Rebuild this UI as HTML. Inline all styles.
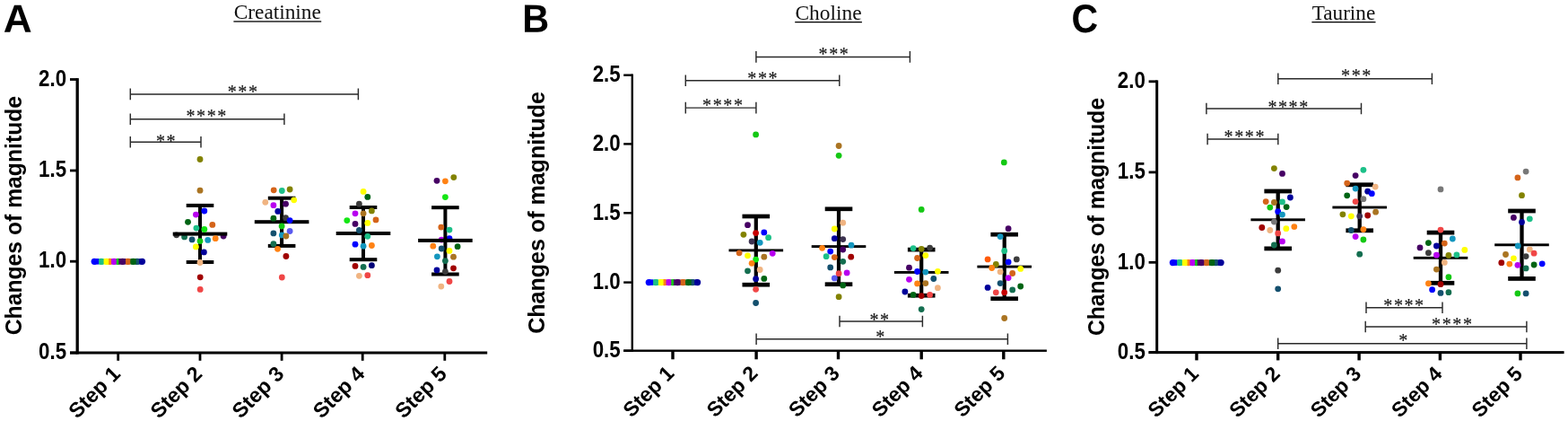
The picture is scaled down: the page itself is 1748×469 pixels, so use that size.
<!DOCTYPE html>
<html lang="en"><head><meta charset="utf-8"><title>Changes of magnitude: Creatinine, Choline, Taurine</title>
<style>
html,body{margin:0;padding:0;background:#fff;}
body{width:1748px;height:469px;overflow:hidden;}
svg{display:block;}
.ax{fill:#000;}
.lab{font-family:"Liberation Sans",Arial,Helvetica,sans-serif;font-weight:bold;fill:#000;}
.pl{font-family:"Liberation Sans",Arial,Helvetica,sans-serif;font-weight:bold;fill:#000;}
.ti{font-family:"Liberation Serif","Times New Roman",serif;fill:#111;}
.st{font-family:"Liberation Serif","Times New Roman",serif;fill:#1a1a1a;stroke:#1a1a1a;stroke-width:0.2px;}
.sg{stroke:#2a2a2a;stroke-width:1.45;fill:none;}
.eb{fill:#000;}
</style></head><body>
<svg width="1748" height="469" viewBox="0 0 1748 469">
<rect width="1748" height="469" fill="#fff"/>
<text class="pl" transform="translate(3.8,35.8) rotate(0.05) scale(1.01,1)" font-size="43.8">A</text>
<text class="ti" x="260.7" y="20.8" font-size="22.5" textLength="97.2" lengthAdjust="spacingAndGlyphs">Creatinine</text>
<rect class="ax" x="260.40" y="23.30" width="97.80" height="1.30"/>
<text class="lab" transform="translate(23.7,373.3) rotate(-90)" font-size="26" textLength="266.4" lengthAdjust="spacingAndGlyphs">Changes of magnitude</text>
<rect class="ax" x="84.55" y="87.10" width="3.30" height="307.40"/>
<rect class="ax" x="78.00" y="391.50" width="465.20" height="3.00"/>
<rect class="ax" x="78.00" y="87.10" width="8.20" height="2.80"/>
<text class="lab" x="43.1" y="95.6" font-size="25.2" textLength="31.0" lengthAdjust="spacingAndGlyphs">2.0</text>
<rect class="ax" x="78.00" y="188.60" width="8.20" height="2.80"/>
<text class="lab" x="43.1" y="197.1" font-size="25.2" textLength="31.0" lengthAdjust="spacingAndGlyphs">1.5</text>
<rect class="ax" x="78.00" y="289.80" width="8.20" height="2.80"/>
<text class="lab" x="43.1" y="298.3" font-size="25.2" textLength="31.0" lengthAdjust="spacingAndGlyphs">1.0</text>
<rect class="ax" x="78.00" y="391.60" width="8.20" height="2.80"/>
<text class="lab" x="43.1" y="400.1" font-size="25.2" textLength="31.0" lengthAdjust="spacingAndGlyphs">0.5</text>
<rect class="ax" x="130.30" y="393.00" width="2.80" height="8.80"/>
<text class="lab" transform="translate(135.4,417.8) rotate(-45)" font-size="23.3" text-anchor="end">Step 1</text>
<rect class="ax" x="221.60" y="393.00" width="2.80" height="8.80"/>
<text class="lab" transform="translate(226.7,417.8) rotate(-45)" font-size="23.3" text-anchor="end">Step 2</text>
<rect class="ax" x="312.70" y="393.00" width="2.80" height="8.80"/>
<text class="lab" transform="translate(317.8,417.8) rotate(-45)" font-size="23.3" text-anchor="end">Step 3</text>
<rect class="ax" x="402.80" y="393.00" width="2.80" height="8.80"/>
<text class="lab" transform="translate(407.9,417.8) rotate(-45)" font-size="23.3" text-anchor="end">Step 4</text>
<rect class="ax" x="494.40" y="393.00" width="2.80" height="8.80"/>
<text class="lab" transform="translate(499.5,417.8) rotate(-45)" font-size="23.3" text-anchor="end">Step 5</text>
<circle cx="122.4" cy="291.3" r="3.6" fill="#FF8214"/>
<circle cx="131.6" cy="291.3" r="3.6" fill="#14C814"/>
<circle cx="152.9" cy="291.3" r="3.6" fill="#14506E"/>
<circle cx="112.9" cy="291.3" r="3.6" fill="#1CC088"/>
<circle cx="127.2" cy="291.3" r="3.6" fill="#B800F0"/>
<circle cx="142.6" cy="291.3" r="3.6" fill="#D4641A"/>
<circle cx="118.9" cy="291.3" r="3.6" fill="#FFFF00"/>
<circle cx="136.6" cy="291.3" r="3.6" fill="#460064"/>
<circle cx="148.5" cy="291.3" r="3.6" fill="#006414"/>
<circle cx="105.2" cy="291.3" r="3.6" fill="#0000FF"/>
<circle cx="158.5" cy="291.3" r="3.6" fill="#00009A"/>
<rect x="105.1" y="288.0" width="5.1" height="6.6" fill="#0000FF"/>
<rect x="110.2" y="288.0" width="5.5" height="6.6" fill="#1CC088"/>
<rect x="115.7" y="288.0" width="5.6" height="6.6" fill="#FFFF00"/>
<rect x="121.2" y="288.0" width="3.0" height="6.6" fill="#FF8214"/>
<rect x="124.2" y="288.0" width="5.5" height="6.6" fill="#B800F0"/>
<rect x="129.7" y="288.0" width="2.7" height="6.6" fill="#14C814"/>
<rect x="132.4" y="288.0" width="7.6" height="6.6" fill="#460064"/>
<rect x="140.0" y="288.0" width="5.5" height="6.6" fill="#D4641A"/>
<rect x="145.5" y="288.0" width="6.4" height="6.6" fill="#006414"/>
<rect x="151.8" y="288.0" width="3.4" height="6.6" fill="#14506E"/>
<rect x="155.2" y="288.0" width="3.4" height="6.6" fill="#00009A"/>
<text class="pl" transform="translate(582.2,35.8) rotate(0.05) scale(0.945,1)" font-size="43.8">B</text>
<text class="ti" x="886.5" y="21.5" font-size="22.5" textLength="74.1" lengthAdjust="spacingAndGlyphs">Choline</text>
<rect class="ax" x="886.20" y="24.00" width="74.70" height="1.30"/>
<text class="lab" transform="translate(607.4,371.8) rotate(-90)" font-size="26" textLength="269.8" lengthAdjust="spacingAndGlyphs">Changes of magnitude</text>
<rect class="ax" x="703.60" y="82.50" width="2.40" height="309.40"/>
<rect class="ax" x="695.20" y="389.50" width="471.70" height="2.40"/>
<rect class="ax" x="695.20" y="82.50" width="9.60" height="2.40"/>
<text class="lab" x="660.7" y="91.1" font-size="25.2" textLength="31.0" lengthAdjust="spacingAndGlyphs">2.5</text>
<rect class="ax" x="695.20" y="159.20" width="9.60" height="2.40"/>
<text class="lab" x="660.7" y="167.8" font-size="25.2" textLength="31.0" lengthAdjust="spacingAndGlyphs">2.0</text>
<rect class="ax" x="695.20" y="236.10" width="9.60" height="2.40"/>
<text class="lab" x="660.7" y="244.7" font-size="25.2" textLength="31.0" lengthAdjust="spacingAndGlyphs">1.5</text>
<rect class="ax" x="695.20" y="313.40" width="9.60" height="2.40"/>
<text class="lab" x="660.7" y="322.0" font-size="25.2" textLength="31.0" lengthAdjust="spacingAndGlyphs">1.0</text>
<rect class="ax" x="695.20" y="389.50" width="9.60" height="2.40"/>
<text class="lab" x="660.7" y="398.1" font-size="25.2" textLength="31.0" lengthAdjust="spacingAndGlyphs">0.5</text>
<rect class="ax" x="748.30" y="390.70" width="3.40" height="9.60"/>
<text class="lab" transform="translate(752.9,417.3) rotate(-45)" font-size="23.0" text-anchor="end">Step 1</text>
<rect class="ax" x="841.40" y="390.70" width="3.40" height="9.60"/>
<text class="lab" transform="translate(846.0,417.3) rotate(-45)" font-size="23.0" text-anchor="end">Step 2</text>
<rect class="ax" x="932.80" y="390.70" width="3.40" height="9.60"/>
<text class="lab" transform="translate(937.4,417.3) rotate(-45)" font-size="23.0" text-anchor="end">Step 3</text>
<rect class="ax" x="1025.50" y="390.70" width="3.40" height="9.60"/>
<text class="lab" transform="translate(1030.1,417.3) rotate(-45)" font-size="23.0" text-anchor="end">Step 4</text>
<rect class="ax" x="1117.10" y="390.70" width="3.40" height="9.60"/>
<text class="lab" transform="translate(1121.7,417.3) rotate(-45)" font-size="23.0" text-anchor="end">Step 5</text>
<circle cx="740.8" cy="314.6" r="3.6" fill="#FF8214"/>
<circle cx="750.2" cy="314.6" r="3.6" fill="#14C814"/>
<circle cx="771.9" cy="314.6" r="3.6" fill="#14506E"/>
<circle cx="731.1" cy="314.6" r="3.6" fill="#1CC088"/>
<circle cx="745.7" cy="314.6" r="3.6" fill="#B800F0"/>
<circle cx="761.4" cy="314.6" r="3.6" fill="#D4641A"/>
<circle cx="737.3" cy="314.6" r="3.6" fill="#FFFF00"/>
<circle cx="755.3" cy="314.6" r="3.6" fill="#460064"/>
<circle cx="767.5" cy="314.6" r="3.6" fill="#006414"/>
<circle cx="723.3" cy="314.6" r="3.6" fill="#0000FF"/>
<circle cx="777.6" cy="314.6" r="3.6" fill="#00009A"/>
<rect x="723.2" y="311.3" width="5.2" height="6.6" fill="#0000FF"/>
<rect x="728.3" y="311.3" width="5.6" height="6.6" fill="#1CC088"/>
<rect x="733.9" y="311.3" width="5.7" height="6.6" fill="#FFFF00"/>
<rect x="739.6" y="311.3" width="3.0" height="6.6" fill="#FF8214"/>
<rect x="742.7" y="311.3" width="5.6" height="6.6" fill="#B800F0"/>
<rect x="748.3" y="311.3" width="2.7" height="6.6" fill="#14C814"/>
<rect x="751.0" y="311.3" width="7.7" height="6.6" fill="#460064"/>
<rect x="758.7" y="311.3" width="5.6" height="6.6" fill="#D4641A"/>
<rect x="764.3" y="311.3" width="6.5" height="6.6" fill="#006414"/>
<rect x="770.8" y="311.3" width="3.5" height="6.6" fill="#14506E"/>
<rect x="774.3" y="311.3" width="3.5" height="6.6" fill="#00009A"/>
<text class="pl" transform="translate(1194.5,36.0) rotate(0.05) scale(0.925,1)" font-size="44.4">C</text>
<text class="ti" x="1462.7" y="21.5" font-size="22.5" textLength="70.5" lengthAdjust="spacingAndGlyphs">Taurine</text>
<rect class="ax" x="1462.40" y="24.00" width="71.10" height="1.30"/>
<text class="lab" transform="translate(1231.1,374.1) rotate(-90)" font-size="26" textLength="265.2" lengthAdjust="spacingAndGlyphs">Changes of magnitude</text>
<rect class="ax" x="1288.20" y="89.40" width="3.00" height="304.70"/>
<rect class="ax" x="1280.60" y="391.10" width="463.00" height="3.00"/>
<rect class="ax" x="1280.60" y="89.40" width="9.10" height="2.80"/>
<text class="lab" x="1245.8" y="98.1" font-size="25.2" textLength="31.0" lengthAdjust="spacingAndGlyphs">2.0</text>
<rect class="ax" x="1280.60" y="190.50" width="9.10" height="2.80"/>
<text class="lab" x="1245.8" y="199.2" font-size="25.2" textLength="31.0" lengthAdjust="spacingAndGlyphs">1.5</text>
<rect class="ax" x="1280.60" y="290.90" width="9.10" height="2.80"/>
<text class="lab" x="1245.8" y="299.6" font-size="25.2" textLength="31.0" lengthAdjust="spacingAndGlyphs">1.0</text>
<rect class="ax" x="1280.60" y="391.20" width="9.10" height="2.80"/>
<text class="lab" x="1245.8" y="399.9" font-size="25.2" textLength="31.0" lengthAdjust="spacingAndGlyphs">0.5</text>
<rect class="ax" x="1332.30" y="392.60" width="3.40" height="8.80"/>
<text class="lab" transform="translate(1337.5,417.8) rotate(-45)" font-size="22.8" text-anchor="end">Step 1</text>
<rect class="ax" x="1423.00" y="392.60" width="3.40" height="8.80"/>
<text class="lab" transform="translate(1428.2,417.8) rotate(-45)" font-size="22.8" text-anchor="end">Step 2</text>
<rect class="ax" x="1513.40" y="392.60" width="3.40" height="8.80"/>
<text class="lab" transform="translate(1518.6,417.8) rotate(-45)" font-size="22.8" text-anchor="end">Step 3</text>
<rect class="ax" x="1603.70" y="392.60" width="3.40" height="8.80"/>
<text class="lab" transform="translate(1608.9,417.8) rotate(-45)" font-size="22.8" text-anchor="end">Step 4</text>
<rect class="ax" x="1693.30" y="392.60" width="3.40" height="8.80"/>
<text class="lab" transform="translate(1698.5,417.8) rotate(-45)" font-size="22.8" text-anchor="end">Step 5</text>
<circle cx="1324.8" cy="292.6" r="3.6" fill="#FF8214"/>
<circle cx="1334.0" cy="292.6" r="3.6" fill="#14C814"/>
<circle cx="1355.5" cy="292.6" r="3.6" fill="#14506E"/>
<circle cx="1315.1" cy="292.6" r="3.6" fill="#1CC088"/>
<circle cx="1329.6" cy="292.6" r="3.6" fill="#B800F0"/>
<circle cx="1345.0" cy="292.6" r="3.6" fill="#D4641A"/>
<circle cx="1321.3" cy="292.6" r="3.6" fill="#FFFF00"/>
<circle cx="1339.0" cy="292.6" r="3.6" fill="#460064"/>
<circle cx="1351.1" cy="292.6" r="3.6" fill="#006414"/>
<circle cx="1307.4" cy="292.6" r="3.6" fill="#0000FF"/>
<circle cx="1361.1" cy="292.6" r="3.6" fill="#00009A"/>
<rect x="1307.3" y="289.3" width="5.1" height="6.6" fill="#0000FF"/>
<rect x="1312.4" y="289.3" width="5.5" height="6.6" fill="#1CC088"/>
<rect x="1317.9" y="289.3" width="5.6" height="6.6" fill="#FFFF00"/>
<rect x="1323.6" y="289.3" width="3.0" height="6.6" fill="#FF8214"/>
<rect x="1326.6" y="289.3" width="5.5" height="6.6" fill="#B800F0"/>
<rect x="1332.1" y="289.3" width="2.7" height="6.6" fill="#14C814"/>
<rect x="1334.8" y="289.3" width="7.6" height="6.6" fill="#460064"/>
<rect x="1342.4" y="289.3" width="5.5" height="6.6" fill="#D4641A"/>
<rect x="1347.9" y="289.3" width="6.4" height="6.6" fill="#006414"/>
<rect x="1354.4" y="289.3" width="3.4" height="6.6" fill="#14506E"/>
<rect x="1357.8" y="289.3" width="3.4" height="6.6" fill="#00009A"/>
<circle cx="196.7" cy="261.8" r="3.4" fill="#3C3C3C"/>
<circle cx="205.6" cy="263.9" r="3.4" fill="#146E50"/>
<circle cx="249.1" cy="263.0" r="3.4" fill="#460064"/>
<circle cx="492.2" cy="267.1" r="3.4" fill="#B800F0"/>
<circle cx="501.0" cy="265.7" r="3.4" fill="#0000FF"/>
<rect class="eb" x="221.00" y="228.90" width="4.00" height="63.10"/>
<rect class="eb" x="207.70" y="226.90" width="30.60" height="4.00"/>
<rect class="eb" x="207.70" y="290.00" width="30.60" height="4.00"/>
<rect class="eb" x="192.70" y="258.60" width="60.60" height="4.00"/>
<rect class="eb" x="312.10" y="220.70" width="4.00" height="53.20"/>
<rect class="eb" x="298.80" y="218.70" width="30.60" height="4.00"/>
<rect class="eb" x="298.80" y="271.90" width="30.60" height="4.00"/>
<rect class="eb" x="283.80" y="245.20" width="60.60" height="4.00"/>
<rect class="eb" x="403.00" y="231.00" width="4.00" height="58.20"/>
<rect class="eb" x="389.70" y="229.00" width="30.60" height="4.00"/>
<rect class="eb" x="389.70" y="287.20" width="30.60" height="4.00"/>
<rect class="eb" x="374.70" y="258.00" width="60.60" height="4.00"/>
<rect class="eb" x="494.40" y="231.20" width="4.00" height="74.30"/>
<rect class="eb" x="481.10" y="229.20" width="30.60" height="4.00"/>
<rect class="eb" x="481.10" y="303.50" width="30.60" height="4.00"/>
<rect class="eb" x="466.10" y="265.90" width="60.60" height="4.00"/>
<rect class="eb" x="840.70" y="241.00" width="4.20" height="76.20"/>
<rect class="eb" x="827.50" y="238.65" width="30.60" height="4.70"/>
<rect class="eb" x="827.50" y="314.85" width="30.60" height="4.70"/>
<rect class="eb" x="812.50" y="277.45" width="60.60" height="2.90"/>
<rect class="eb" x="932.90" y="232.80" width="4.20" height="83.90"/>
<rect class="eb" x="919.70" y="230.45" width="30.60" height="4.70"/>
<rect class="eb" x="919.70" y="314.35" width="30.60" height="4.70"/>
<rect class="eb" x="904.70" y="273.15" width="60.60" height="2.90"/>
<rect class="eb" x="1025.10" y="278.10" width="4.20" height="51.10"/>
<rect class="eb" x="1011.90" y="275.75" width="30.60" height="4.70"/>
<rect class="eb" x="1011.90" y="326.85" width="30.60" height="4.70"/>
<rect class="eb" x="996.90" y="301.95" width="60.60" height="2.90"/>
<rect class="eb" x="1117.60" y="261.20" width="4.20" height="71.50"/>
<rect class="eb" x="1104.40" y="258.85" width="30.60" height="4.70"/>
<rect class="eb" x="1104.40" y="330.35" width="30.60" height="4.70"/>
<rect class="eb" x="1089.40" y="295.65" width="60.60" height="2.90"/>
<rect class="eb" x="1422.55" y="213.00" width="4.30" height="63.90"/>
<rect class="eb" x="1409.40" y="210.60" width="30.60" height="4.80"/>
<rect class="eb" x="1409.40" y="274.50" width="30.60" height="4.80"/>
<rect class="eb" x="1394.40" y="243.35" width="60.60" height="2.90"/>
<rect class="eb" x="1513.55" y="205.80" width="4.30" height="51.00"/>
<rect class="eb" x="1500.40" y="203.40" width="30.60" height="4.80"/>
<rect class="eb" x="1500.40" y="254.40" width="30.60" height="4.80"/>
<rect class="eb" x="1485.40" y="229.55" width="60.60" height="2.90"/>
<rect class="eb" x="1603.85" y="259.10" width="4.30" height="56.20"/>
<rect class="eb" x="1590.70" y="256.70" width="30.60" height="4.80"/>
<rect class="eb" x="1590.70" y="312.90" width="30.60" height="4.80"/>
<rect class="eb" x="1575.70" y="285.85" width="60.60" height="2.90"/>
<rect class="eb" x="1694.35" y="235.00" width="4.30" height="75.40"/>
<rect class="eb" x="1681.20" y="232.60" width="30.60" height="4.80"/>
<rect class="eb" x="1681.20" y="308.00" width="30.60" height="4.80"/>
<rect class="eb" x="1666.20" y="271.35" width="60.60" height="2.90"/>
<circle cx="223.0" cy="177.5" r="3.4" fill="#828200"/>
<circle cx="223.0" cy="212.2" r="3.4" fill="#AA7422"/>
<circle cx="227.8" cy="235.0" r="3.4" fill="#0000FF"/>
<circle cx="218.4" cy="239.1" r="3.4" fill="#B800F0"/>
<circle cx="209.5" cy="247.3" r="3.4" fill="#006414"/>
<circle cx="236.8" cy="250.4" r="3.4" fill="#D4641A"/>
<circle cx="218.9" cy="254.1" r="3.4" fill="#1CC088"/>
<circle cx="227.8" cy="255.5" r="3.4" fill="#14E614"/>
<circle cx="214.1" cy="266.9" r="3.4" fill="#14506E"/>
<circle cx="223.0" cy="268.6" r="3.4" fill="#14C814"/>
<circle cx="231.7" cy="267.4" r="3.4" fill="#1496BE"/>
<circle cx="240.2" cy="265.7" r="3.4" fill="#FF8214"/>
<circle cx="218.4" cy="274.9" r="3.4" fill="#FFFF00"/>
<circle cx="227.4" cy="280.9" r="3.4" fill="#00009A"/>
<circle cx="223.0" cy="292.5" r="3.4" fill="#F0B482"/>
<circle cx="223.2" cy="308.8" r="3.4" fill="#A00000"/>
<circle cx="223.2" cy="322.4" r="3.4" fill="#F04646"/>
<circle cx="305.2" cy="211.8" r="3.4" fill="#D4641A"/>
<circle cx="314.3" cy="212.5" r="3.4" fill="#1CC088"/>
<circle cx="323.1" cy="211.0" r="3.4" fill="#828200"/>
<circle cx="295.8" cy="225.3" r="3.4" fill="#F0B482"/>
<circle cx="327.7" cy="222.8" r="3.4" fill="#FFFF00"/>
<circle cx="304.9" cy="228.7" r="3.4" fill="#B800F0"/>
<circle cx="318.5" cy="227.2" r="3.4" fill="#460064"/>
<circle cx="309.8" cy="235.4" r="3.4" fill="#00009A"/>
<circle cx="304.9" cy="243.2" r="3.4" fill="#006414"/>
<circle cx="318.5" cy="242.6" r="3.4" fill="#3C3C3C"/>
<circle cx="323.1" cy="245.6" r="3.4" fill="#0000FF"/>
<circle cx="405.1" cy="213.4" r="3.4" fill="#FFFF00"/>
<circle cx="409.8" cy="219.4" r="3.4" fill="#006414"/>
<circle cx="400.4" cy="227.2" r="3.4" fill="#3C3C3C"/>
<circle cx="414.4" cy="234.9" r="3.4" fill="#828200"/>
<circle cx="396.0" cy="237.8" r="3.4" fill="#B800F0"/>
<circle cx="405.1" cy="237.8" r="3.4" fill="#AA7422"/>
<circle cx="386.8" cy="245.6" r="3.4" fill="#14E614"/>
<circle cx="419.0" cy="244.9" r="3.4" fill="#D4641A"/>
<circle cx="396.0" cy="249.4" r="3.4" fill="#460064"/>
<circle cx="409.8" cy="248.4" r="3.4" fill="#FFFF00"/>
<circle cx="314.1" cy="252.0" r="3.4" fill="#14C814"/>
<circle cx="304.9" cy="259.9" r="3.4" fill="#14506E"/>
<circle cx="323.1" cy="257.5" r="3.4" fill="#5A5AF0"/>
<circle cx="314.3" cy="261.9" r="3.4" fill="#1496BE"/>
<circle cx="318.9" cy="263.0" r="3.4" fill="#AA7422"/>
<circle cx="304.9" cy="271.7" r="3.4" fill="#146E50"/>
<circle cx="309.5" cy="277.3" r="3.4" fill="#FF8214"/>
<circle cx="318.9" cy="285.5" r="3.4" fill="#A00000"/>
<circle cx="314.3" cy="309.0" r="3.4" fill="#F04646"/>
<circle cx="400.4" cy="256.5" r="3.4" fill="#14506E"/>
<circle cx="409.8" cy="263.3" r="3.4" fill="#1CC088"/>
<circle cx="396.0" cy="272.2" r="3.4" fill="#0000FF"/>
<circle cx="405.1" cy="274.2" r="3.4" fill="#1496BE"/>
<circle cx="414.4" cy="273.5" r="3.4" fill="#FF8214"/>
<circle cx="396.0" cy="296.4" r="3.4" fill="#A00000"/>
<circle cx="405.1" cy="297.4" r="3.4" fill="#146E50"/>
<circle cx="414.4" cy="295.7" r="3.4" fill="#000078"/>
<circle cx="400.4" cy="307.3" r="3.4" fill="#F0B482"/>
<circle cx="409.8" cy="306.7" r="3.4" fill="#F04646"/>
<circle cx="487.0" cy="201.3" r="3.4" fill="#460064"/>
<circle cx="496.4" cy="201.8" r="3.4" fill="#FF8214"/>
<circle cx="505.8" cy="197.6" r="3.4" fill="#828200"/>
<circle cx="496.4" cy="219.6" r="3.4" fill="#14E614"/>
<circle cx="491.8" cy="253.1" r="3.4" fill="#D4641A"/>
<circle cx="501.0" cy="256.1" r="3.4" fill="#1CC088"/>
<circle cx="482.8" cy="274.2" r="3.4" fill="#FF8214"/>
<circle cx="492.2" cy="277.0" r="3.4" fill="#14506E"/>
<circle cx="510.1" cy="274.7" r="3.4" fill="#006414"/>
<circle cx="501.0" cy="279.4" r="3.4" fill="#FFFF00"/>
<circle cx="487.4" cy="285.8" r="3.4" fill="#1496BE"/>
<circle cx="505.5" cy="286.2" r="3.4" fill="#AA7422"/>
<circle cx="496.4" cy="290.6" r="3.4" fill="#146E50"/>
<circle cx="487.0" cy="300.9" r="3.4" fill="#00009A"/>
<circle cx="505.5" cy="298.8" r="3.4" fill="#A00000"/>
<circle cx="496.4" cy="302.6" r="3.4" fill="#3C3C3C"/>
<circle cx="501.0" cy="313.5" r="3.4" fill="#F04646"/>
<circle cx="491.8" cy="319.1" r="3.4" fill="#F0B482"/>
<circle cx="842.6" cy="149.9" r="3.4" fill="#14C814"/>
<circle cx="935.1" cy="162.5" r="3.4" fill="#AA7422"/>
<circle cx="935.1" cy="173.3" r="3.4" fill="#14C814"/>
<circle cx="833.5" cy="250.7" r="3.4" fill="#460064"/>
<circle cx="828.9" cy="261.3" r="3.4" fill="#828200"/>
<circle cx="842.6" cy="259.6" r="3.4" fill="#C80000"/>
<circle cx="851.8" cy="258.9" r="3.4" fill="#0000FF"/>
<circle cx="856.6" cy="264.7" r="3.4" fill="#1CC088"/>
<circle cx="838.1" cy="269.0" r="3.4" fill="#3C3250"/>
<circle cx="847.2" cy="270.3" r="3.4" fill="#1496BE"/>
<circle cx="824.1" cy="281.8" r="3.4" fill="#D4641A"/>
<circle cx="833.5" cy="284.8" r="3.4" fill="#FFFF00"/>
<circle cx="861.2" cy="282.3" r="3.4" fill="#B800F0"/>
<circle cx="851.8" cy="286.2" r="3.4" fill="#AA7422"/>
<circle cx="842.6" cy="289.1" r="3.4" fill="#14E614"/>
<circle cx="939.7" cy="248.2" r="3.4" fill="#F0B482"/>
<circle cx="930.3" cy="255.0" r="3.4" fill="#FFFF00"/>
<circle cx="930.3" cy="265.7" r="3.4" fill="#00009A"/>
<circle cx="939.7" cy="266.6" r="3.4" fill="#3C3250"/>
<circle cx="949.0" cy="273.2" r="3.4" fill="#1496BE"/>
<circle cx="916.6" cy="276.3" r="3.4" fill="#FF8214"/>
<circle cx="925.7" cy="280.1" r="3.4" fill="#0000FF"/>
<circle cx="939.7" cy="278.0" r="3.4" fill="#460064"/>
<circle cx="921.1" cy="285.7" r="3.4" fill="#1CC088"/>
<circle cx="930.3" cy="286.6" r="3.4" fill="#D4641A"/>
<circle cx="948.7" cy="286.2" r="3.4" fill="#A00000"/>
<circle cx="939.7" cy="291.3" r="3.4" fill="#146E50"/>
<circle cx="838.1" cy="293.3" r="3.4" fill="#FF8214"/>
<circle cx="833.5" cy="301.8" r="3.4" fill="#146E50"/>
<circle cx="847.2" cy="300.5" r="3.4" fill="#F0B482"/>
<circle cx="842.6" cy="310.7" r="3.4" fill="#00009A"/>
<circle cx="851.8" cy="310.4" r="3.4" fill="#006414"/>
<circle cx="842.6" cy="322.3" r="3.4" fill="#F04646"/>
<circle cx="842.6" cy="337.5" r="3.4" fill="#14506E"/>
<circle cx="925.7" cy="297.9" r="3.4" fill="#14506E"/>
<circle cx="935.1" cy="304.7" r="3.4" fill="#F04646"/>
<circle cx="944.1" cy="303.9" r="3.4" fill="#B800F0"/>
<circle cx="930.3" cy="309.9" r="3.4" fill="#5A5AF0"/>
<circle cx="939.7" cy="317.9" r="3.4" fill="#006414"/>
<circle cx="935.1" cy="330.7" r="3.4" fill="#828200"/>
<circle cx="1027.2" cy="233.4" r="3.4" fill="#14C814"/>
<circle cx="1018.1" cy="276.6" r="3.4" fill="#1CC088"/>
<circle cx="1027.2" cy="277.3" r="3.4" fill="#828200"/>
<circle cx="1036.6" cy="276.1" r="3.4" fill="#3C3C3C"/>
<circle cx="1022.6" cy="287.5" r="3.4" fill="#D4641A"/>
<circle cx="1031.8" cy="284.6" r="3.4" fill="#FFFF00"/>
<circle cx="1119.3" cy="180.9" r="3.4" fill="#14C814"/>
<circle cx="1124.1" cy="254.7" r="3.4" fill="#460064"/>
<circle cx="1115.1" cy="263.6" r="3.4" fill="#1496BE"/>
<circle cx="1119.7" cy="279.5" r="3.4" fill="#1CC088"/>
<circle cx="1101.1" cy="288.9" r="3.4" fill="#FF5A0A"/>
<circle cx="1133.3" cy="288.9" r="3.4" fill="#3C3C3C"/>
<circle cx="1124.1" cy="291.9" r="3.4" fill="#0000FF"/>
<circle cx="1110.3" cy="294.5" r="3.4" fill="#828200"/>
<circle cx="1013.5" cy="298.2" r="3.4" fill="#460064"/>
<circle cx="1022.6" cy="302.5" r="3.4" fill="#0000FF"/>
<circle cx="1031.8" cy="303.1" r="3.4" fill="#1496BE"/>
<circle cx="1045.4" cy="302.3" r="3.4" fill="#FFFF00"/>
<circle cx="1013.5" cy="311.3" r="3.4" fill="#B800F0"/>
<circle cx="1040.8" cy="310.5" r="3.4" fill="#14506E"/>
<circle cx="1022.6" cy="315.9" r="3.4" fill="#FF8214"/>
<circle cx="1031.8" cy="315.6" r="3.4" fill="#AA7422"/>
<circle cx="1045.4" cy="320.7" r="3.4" fill="#F0B482"/>
<circle cx="1008.9" cy="325.0" r="3.4" fill="#00009A"/>
<circle cx="1018.1" cy="328.4" r="3.4" fill="#006414"/>
<circle cx="1027.2" cy="329.6" r="3.4" fill="#A00000"/>
<circle cx="1036.6" cy="328.4" r="3.4" fill="#F04646"/>
<circle cx="1027.2" cy="344.6" r="3.4" fill="#146E50"/>
<circle cx="1105.7" cy="298.5" r="3.4" fill="#FF8214"/>
<circle cx="1137.7" cy="299.4" r="3.4" fill="#FFFF00"/>
<circle cx="1115.1" cy="302.8" r="3.4" fill="#F0B482"/>
<circle cx="1128.7" cy="304.5" r="3.4" fill="#D4641A"/>
<circle cx="1124.1" cy="309.6" r="3.4" fill="#B800F0"/>
<circle cx="1115.1" cy="315.6" r="3.4" fill="#14506E"/>
<circle cx="1101.1" cy="320.4" r="3.4" fill="#00009A"/>
<circle cx="1137.7" cy="319.0" r="3.4" fill="#006414"/>
<circle cx="1128.7" cy="322.9" r="3.4" fill="#146E50"/>
<circle cx="1110.3" cy="325.8" r="3.4" fill="#F04646"/>
<circle cx="1119.7" cy="325.8" r="3.4" fill="#C80000"/>
<circle cx="1119.7" cy="354.5" r="3.4" fill="#AA7422"/>
<circle cx="1420.4" cy="187.6" r="3.4" fill="#828200"/>
<circle cx="1429.5" cy="193.4" r="3.4" fill="#460064"/>
<circle cx="1438.4" cy="220.0" r="3.4" fill="#00009A"/>
<circle cx="1411.2" cy="224.6" r="3.4" fill="#D4641A"/>
<circle cx="1420.4" cy="225.5" r="3.4" fill="#AA7422"/>
<circle cx="1429.5" cy="224.9" r="3.4" fill="#1CC088"/>
<circle cx="1415.8" cy="231.1" r="3.4" fill="#14C814"/>
<circle cx="1434.1" cy="230.6" r="3.4" fill="#006414"/>
<circle cx="1424.7" cy="235.7" r="3.4" fill="#0000FF"/>
<circle cx="1429.5" cy="239.1" r="3.4" fill="#1496BE"/>
<circle cx="1420.4" cy="247.1" r="3.4" fill="#787878"/>
<circle cx="1519.9" cy="189.3" r="3.4" fill="#1CC088"/>
<circle cx="1511.1" cy="195.6" r="3.4" fill="#460064"/>
<circle cx="1501.7" cy="204.1" r="3.4" fill="#D4641A"/>
<circle cx="1533.2" cy="208.1" r="3.4" fill="#F0B482"/>
<circle cx="1511.1" cy="210.1" r="3.4" fill="#1496BE"/>
<circle cx="1524.7" cy="213.2" r="3.4" fill="#00009A"/>
<circle cx="1529.3" cy="215.7" r="3.4" fill="#0000FF"/>
<circle cx="1501.7" cy="217.8" r="3.4" fill="#006414"/>
<circle cx="1519.9" cy="221.7" r="3.4" fill="#787878"/>
<circle cx="1511.1" cy="224.6" r="3.4" fill="#F04646"/>
<circle cx="1496.9" cy="238.8" r="3.4" fill="#828200"/>
<circle cx="1506.3" cy="240.8" r="3.4" fill="#FFFF00"/>
<circle cx="1515.7" cy="240.8" r="3.4" fill="#3C3250"/>
<circle cx="1524.7" cy="240.0" r="3.4" fill="#A00000"/>
<circle cx="1533.6" cy="236.2" r="3.4" fill="#AA7422"/>
<circle cx="1406.8" cy="253.5" r="3.4" fill="#A00000"/>
<circle cx="1415.8" cy="256.5" r="3.4" fill="#F0B482"/>
<circle cx="1433.8" cy="254.7" r="3.4" fill="#FFFF00"/>
<circle cx="1442.8" cy="252.7" r="3.4" fill="#FF8214"/>
<circle cx="1424.7" cy="259.9" r="3.4" fill="#F04646"/>
<circle cx="1429.5" cy="268.9" r="3.4" fill="#B800F0"/>
<circle cx="1420.4" cy="273.0" r="3.4" fill="#146E50"/>
<circle cx="1424.7" cy="301.2" r="3.4" fill="#3C3C3C"/>
<circle cx="1506.3" cy="256.5" r="3.4" fill="#14506E"/>
<circle cx="1519.9" cy="255.6" r="3.4" fill="#FF8214"/>
<circle cx="1511.1" cy="263.6" r="3.4" fill="#B800F0"/>
<circle cx="1519.9" cy="267.0" r="3.4" fill="#14C814"/>
<circle cx="1515.7" cy="283.2" r="3.4" fill="#146E50"/>
<circle cx="1424.7" cy="321.8" r="3.4" fill="#14506E"/>
<circle cx="1606.0" cy="210.9" r="3.4" fill="#787878"/>
<circle cx="1701.1" cy="191.1" r="3.4" fill="#787878"/>
<circle cx="1691.9" cy="197.9" r="3.4" fill="#D4641A"/>
<circle cx="1696.5" cy="217.7" r="3.4" fill="#828200"/>
<circle cx="1606.0" cy="256.1" r="3.4" fill="#F04646"/>
<circle cx="1619.3" cy="266.0" r="3.4" fill="#1496BE"/>
<circle cx="1592.4" cy="270.6" r="3.4" fill="#006414"/>
<circle cx="1601.4" cy="274.0" r="3.4" fill="#00009A"/>
<circle cx="1610.3" cy="271.1" r="3.4" fill="#D4641A"/>
<circle cx="1583.0" cy="275.9" r="3.4" fill="#460064"/>
<circle cx="1592.4" cy="281.7" r="3.4" fill="#3C3C3C"/>
<circle cx="1632.8" cy="278.4" r="3.4" fill="#FFFF00"/>
<circle cx="1601.4" cy="284.2" r="3.4" fill="#B800F0"/>
<circle cx="1614.9" cy="284.4" r="3.4" fill="#828200"/>
<circle cx="1623.9" cy="283.9" r="3.4" fill="#1CC088"/>
<circle cx="1610.3" cy="292.4" r="3.4" fill="#F0B482"/>
<circle cx="1601.4" cy="300.1" r="3.4" fill="#AA7422"/>
<circle cx="1687.4" cy="242.4" r="3.4" fill="#460064"/>
<circle cx="1705.3" cy="243.8" r="3.4" fill="#1CC088"/>
<circle cx="1696.5" cy="247.5" r="3.4" fill="#00009A"/>
<circle cx="1692.2" cy="274.0" r="3.4" fill="#1496BE"/>
<circle cx="1705.3" cy="277.9" r="3.4" fill="#F0B482"/>
<circle cx="1710.1" cy="282.2" r="3.4" fill="#F04646"/>
<circle cx="1678.5" cy="283.5" r="3.4" fill="#AA7422"/>
<circle cx="1701.1" cy="285.6" r="3.4" fill="#3C3C3C"/>
<circle cx="1687.4" cy="287.8" r="3.4" fill="#FFFF00"/>
<circle cx="1673.8" cy="292.7" r="3.4" fill="#A00000"/>
<circle cx="1682.8" cy="294.1" r="3.4" fill="#FF8214"/>
<circle cx="1691.9" cy="295.3" r="3.4" fill="#B800F0"/>
<circle cx="1710.1" cy="295.0" r="3.4" fill="#006414"/>
<circle cx="1719.2" cy="293.8" r="3.4" fill="#0000FF"/>
<circle cx="1701.1" cy="298.9" r="3.4" fill="#146E50"/>
<circle cx="1614.9" cy="308.7" r="3.4" fill="#14C814"/>
<circle cx="1592.4" cy="315.8" r="3.4" fill="#FF8214"/>
<circle cx="1606.0" cy="316.7" r="3.4" fill="#A00000"/>
<circle cx="1596.6" cy="322.7" r="3.4" fill="#0000FF"/>
<circle cx="1606.0" cy="326.4" r="3.4" fill="#14506E"/>
<circle cx="1614.9" cy="325.7" r="3.4" fill="#146E50"/>
<circle cx="1691.9" cy="326.9" r="3.4" fill="#14C814"/>
<circle cx="1701.1" cy="326.9" r="3.4" fill="#14506E"/>
<path class="sg" d="M145.3 98.6V111.2M145.3 104.9H399.4M399.4 98.6V111.2"/>
<text class="st" x="253.7" y="109.0" font-size="20" letter-spacing="1.6">***</text>
<path class="sg" d="M145.3 126.4V139.0M145.3 132.7H316.9M316.9 126.4V139.0"/>
<text class="st" x="207.5" y="135.6" font-size="20" letter-spacing="1.6">****</text>
<path class="sg" d="M145.3 151.9V164.5M145.3 158.2H224.0M224.0 151.9V164.5"/>
<text class="st" x="173.9" y="163.6" font-size="20" letter-spacing="1.6">**</text>
<path class="sg" d="M842.9 57.1V69.7M842.9 63.4H1014.4M1014.4 57.1V69.7"/>
<text class="st" x="912.6" y="67.3" font-size="20" letter-spacing="1.6">***</text>
<path class="sg" d="M764.3 83.5V96.1M764.3 89.8H935.8M935.8 83.5V96.1"/>
<text class="st" x="833.3" y="93.9" font-size="20" letter-spacing="1.6">***</text>
<path class="sg" d="M764.3 113.8V126.4M764.3 120.1H842.9M842.9 113.8V126.4"/>
<text class="st" x="783.1" y="124.3" font-size="20" letter-spacing="1.6">****</text>
<path class="sg" d="M936.0 351.7V364.3M936.0 358.0H1028.4M1028.4 351.7V364.3"/>
<text class="st" x="969.4" y="362.7" font-size="20" letter-spacing="1.6">**</text>
<path class="sg" d="M843.1 371.4V384.0M843.1 377.7H1123.4M1123.4 371.4V384.0"/>
<text class="st" x="976.3" y="381.9" font-size="20" letter-spacing="1.6">*</text>
<path class="sg" d="M1424.8 81.4V94.0M1424.8 87.7H1596.4M1596.4 81.4V94.0"/>
<text class="st" x="1495.1" y="91.0" font-size="20" letter-spacing="1.6">***</text>
<path class="sg" d="M1344.9 114.7V127.3M1344.9 121.0H1517.5M1517.5 114.7V127.3"/>
<text class="st" x="1413.4" y="125.5" font-size="20" letter-spacing="1.6">****</text>
<path class="sg" d="M1346.1 148.7V161.3M1346.1 155.0H1424.8M1424.8 148.7V161.3"/>
<text class="st" x="1364.6" y="158.9" font-size="20" letter-spacing="1.6">****</text>
<path class="sg" d="M1523.0 336.4V349.0M1523.0 342.7H1608.0M1608.0 336.4V349.0"/>
<text class="st" x="1542.3" y="347.3" font-size="20" letter-spacing="1.6">****</text>
<path class="sg" d="M1522.2 357.7V370.3M1522.2 364.0H1701.9M1701.9 357.7V370.3"/>
<text class="st" x="1596.1" y="368.1" font-size="20" letter-spacing="1.6">****</text>
<path class="sg" d="M1424.7 376.4V389.0M1424.7 382.7H1701.9M1701.9 376.4V389.0"/>
<text class="st" x="1559.2" y="385.5" font-size="20" letter-spacing="1.6">*</text>
</svg></body></html>
